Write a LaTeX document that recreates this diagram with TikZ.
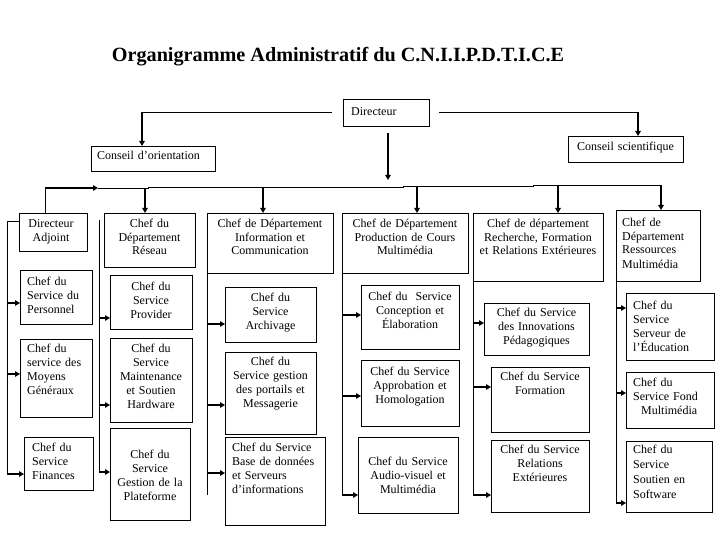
\documentclass[tikz,border=0pt]{standalone}
\usepackage{fontspec}
\setmainfont{Liberation Serif}
\usetikzlibrary{arrows.meta,calc}
\tikzset{
 box/.style={draw, line width=0.8pt, inner sep=0pt, outer sep=0pt},
 ctxt/.style={anchor=base, align=center, inner sep=0pt, font=\fontsize{12}{14}\selectfont},
 ltxt/.style={anchor=base west, align=left, inner sep=0pt, text width=140pt, font=\fontsize{12}{14}\selectfont},
 ln/.style={line width=0.8pt},
 arr/.style={line width=1.6pt, -{Triangle[length=5pt,width=5.5pt]}},
}
\newcommand\obox[5]{\node[box, minimum width={(#4-#2)*1pt}, minimum height={(#5-#3)*1pt}, anchor=north west] (#1) at (#2,#3) {};}
\begin{document}
\begin{tikzpicture}[x=1pt,y=-1pt]
\useasboundingbox[fill=white] (0,0) rectangle (720,540);

\node[font=\fontsize{20.2}{24}\selectfont\bfseries, anchor=base, inner sep=0pt] (title) at (338,62) {Organigramme Administratif du C.N.I.I.P.D.T.I.C.E};

% top level
\obox{Dir}{343}{99}{429}{126}
\node[ltxt] (Dirt) at (351,116) {Directeur};
\obox{CO}{91}{146}{215}{171}
\node[ltxt] (COt) at (97,160) {Conseil d’orientation};
\obox{CS}{568}{136}{683}{162}
\node[ctxt, text width=113pt] (CSt) at (625.5,151) {Conseil scientifique};

% column 1
\obox{DA}{19}{213}{87}{251}
\node[ctxt, text width=66pt] (DAt) at (51,227) {Directeur\\Adjoint};
\obox{Pers}{20}{270}{92}{324}
\node[ltxt] (Perst) at (27,285) {Chef du\\Service du\\Personnel};
\obox{Moy}{20}{339}{92}{417}
\node[ltxt] (Moyt) at (27,352) {Chef du\\service des\\Moyens\\Généraux};
\obox{Fin}{24}{437}{93}{490}
\node[ltxt] (Fint) at (32,451) {Chef du\\Service\\Finances};

% column 2
\obox{Res}{104}{213}{195}{267}
\node[ctxt, text width=89pt] (Rest) at (149.5,227) {Chef du\\Département\\Réseau};
\obox{Prov}{110}{275}{192}{329}
\node[ctxt, text width=80pt] (Provt) at (151,290) {Chef du\\Service\\Provider};
\obox{Maint}{110}{338}{192}{422}
\node[ctxt, text width=80pt] (Maintt) at (151,352) {Chef du\\Service\\Maintenance\\et Soutien\\Hardware};
\obox{Plat}{110}{428}{190}{520}
\node[ctxt, text width=78pt] (Platt) at (150,458) {Chef du\\Service\\Gestion de la\\Plateforme};

% column 3
\obox{Info}{207}{213}{333}{273}
\node[ctxt, text width=124pt] (Infot) at (270,227) {Chef de Département\\Information et\\Communication};
\obox{Arch}{225}{287}{316}{342}
\node[ctxt, text width=89pt] (Archt) at (270.5,301) {Chef du\\Service\\Archivage};
\obox{Port}{225}{352}{316}{434}
\node[ctxt, text width=89pt] (Portt) at (270.5,365) {Chef du\\Service gestion\\des portails et\\Messagerie};
\obox{BD}{225}{437}{325}{525}
\node[ltxt] (BDt) at (232,451) {Chef du Service\\Base de données\\et Serveurs\\d’informations};

% column 4
\obox{Prod}{342}{213}{468}{273}
\node[ctxt, text width=124pt] (Prodt) at (405,227) {Chef de Département\\Production de Cours\\Multimédia};
\obox{Conc}{361}{285}{459}{349}
\node[ctxt, text width=96pt] (Conct) at (410,300) {Chef du\ \ Service\\Conception et\\Élaboration};
\obox{Appr}{361}{360}{459}{426}
\node[ctxt, text width=96pt] (Apprt) at (410,375) {Chef du Service\\Approbation et\\Homologation};
\obox{Aud}{358}{437}{458}{513}
\node[ctxt, text width=98pt] (Audt) at (408,465) {Chef du Service\\Audio-visuel et\\Multimédia};

% column 5
\obox{Rech}{473}{213}{603}{281}
\node[ctxt, text width=128pt] (Recht) at (538,227) {Chef de département\\Recherche, Formation\\et Relations Extérieures};
\obox{Inno}{484}{303}{589}{355}
\node[ctxt, text width=103pt] (Innot) at (536.5,316) {Chef du Service\\des Innovations\\Pédagogiques};
\obox{Form}{491}{367}{589}{432}
\node[ctxt, text width=96pt] (Formt) at (540,380) {Chef du Service\\Formation};
\obox{Rel}{491}{440}{589}{512}
\node[ctxt, text width=96pt] (Relt) at (540,453) {Chef du Service\\Relations\\Extérieures};

% column 6
\obox{Ress}{616}{210}{700}{281}
\node[ltxt] (Resst) at (622,226) {Chef de\\Département\\Ressources\\Multimédia};
\obox{Serv}{626}{293}{714}{360}
\node[ltxt] (Servt) at (633,309) {Chef du\\Service\\Serveur de\\l’Éducation};
\obox{Fond}{626}{372}{714}{428}
\node[ltxt] (Fondt) at (633,386) {Chef du\\Service Fond\\\hspace*{8pt}Multimédia};
\obox{Soft}{626}{441}{712}{512}
\node[ltxt, font=\fontsize{12}{15}\selectfont] (Softt) at (633,453) {Chef du\\Service\\Soutien en\\Software};

% top connectors
\draw[ln] ([xshift=-11pt]Dir.west) -- (142,112.5);
\draw[arr] (142,112.5) -- (CO.north -| 142,112.5);
\draw[ln] ([xshift=10pt]Dir.east) -- (638,112.5);
\draw[arr] (638,112.5) -- (CS.north -| 638,112.5);
\draw[arr] ([xshift=2pt,yshift=-7pt]Dir.south) -- (388,180);

% bus
\draw[ln] (98,188) -- (148,188) -- (148,187) -- (403,187) -- (403,186) -- (533,186) -- (533,185) -- (661,185);
\draw[ln] ([xshift=-8pt]DA.north) -- (45,188);
\draw[arr] (45,188) -- (98,188);
\draw[arr] (145,188) -- (Res.north -| 145,188);
\draw[arr] (263,187) -- (Info.north -| 263,187);
\draw[arr] (417,186) -- (Prod.north -| 417,186);
\draw[arr] (558,185) -- (Rech.north -| 558,185);
\draw[arr] (661,185) -- (Ress.north -| 661,185);

% column 1 connectors
\draw[ln] (DA.west |- 7,221) -- (7,221) -- (7,474);
\draw[arr] (7,303) -- (Pers.west |- 7,303);
\draw[arr] (7,374) -- (Moy.west |- 7,374);
\draw[arr] (7,474) -- (Fin.west |- 7,474);

% column 2 connectors
\draw[ln] (99,220) -- (99,472);
\draw[arr] (99,318) -- (Prov.west |- 99,318);
\draw[arr] (99,405) -- (Maint.west |- 99,405);
\draw[arr] (99,472) -- (Plat.west |- 99,472);

% column 3 connectors
\draw[ln] (Info.south west) -- (207,495);
\draw[arr] (207,324) -- (Arch.west |- 207,324);
\draw[arr] (207,405) -- (Port.west |- 207,405);
\draw[arr] (207,473) -- (BD.west |- 207,473);

% column 4 connectors
\draw[ln] (Prod.south west) -- (342,495);
\draw[arr] (342,315) -- (Conc.west |- 342,315);
\draw[arr] (342,396) -- (Appr.west |- 342,396);
\draw[arr] (342,495) -- (Aud.west |- 342,495);

% column 5 connectors
\draw[ln] (Rech.south west) -- (473,495);
\draw[arr] (473,323) -- (Inno.west |- 473,323);
\draw[arr] (473,387) -- (Form.west |- 473,387);
\draw[arr] (473,495) -- (Rel.west |- 473,495);

% column 6 connectors
\draw[ln] (Ress.south west) -- (616,503);
\draw[arr] (616,308) -- (Serv.west |- 616,308);
\draw[arr] (616,393) -- (Fond.west |- 616,393);
\draw[arr] (616,503) -- (Soft.west |- 616,503);
\end{tikzpicture}
\end{document}
